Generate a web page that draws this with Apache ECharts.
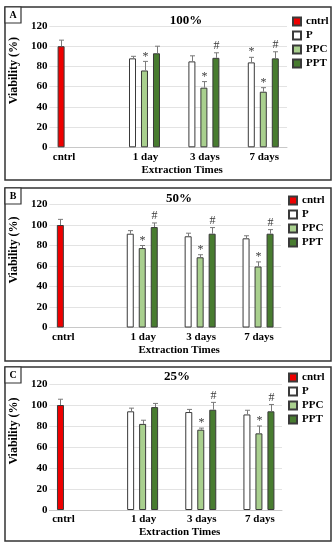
<!DOCTYPE html>
<html>
<head>
<meta charset="utf-8">
<script src="https://cdn.jsdelivr.net/npm/echarts@6/dist/echarts.min.js"></script>
<style>
  html, body { margin: 0; padding: 0; background: #fff; }
  #chart { width: 336px; height: 548px; }
</style>
</head>
<body>
<div id="chart"></div>
<script>
// Shared axis content
const categories = ['cntrl', '1 day', '3 days', '7 days'];
const seriesNames = ['cntrl', 'P', 'PPC', 'PPT'];
const yMin = 0, yMax = 120, yStep = 20;

// Panel A: 100% extract (values for 1, 3 and 7 days)
const cntrlA = 100, cntrlErrA = 6;
const pA = [88, 85, 84],     pErrA = [2, 5.5, 5];
const ppcA = [76, 59, 55],   ppcErrA = [9, 6, 4];
const pptA = [93, 88.5, 88], pptErrA = [7, 5, 6.5];
const pMarkA = ['', '', '*'], ppcMarkA = ['*', '*', '*'], pptMarkA = ['', '#', '#'];

// Panel B: 50% extract
const cntrlB = 100, cntrlErrB = 5.5;
const pB = [91.5, 89, 87],     pErrB = [3, 3, 2.5];
const ppcB = [77.5, 68.5, 59.5], ppcErrB = [2.5, 2.5, 4.5];
const pptB = [98, 91.5, 91.5],  pptErrB = [4, 6, 4];
const pMarkB = ['', '', ''], ppcMarkB = ['*', '*', '*'], pptMarkB = ['#', '#', '#'];

// Panel C: 25% extract
const cntrlC = 100, cntrlErrC = 5.5;
const pC = [94, 93.3, 91],     pErrC = [3, 2.5, 4];
const ppcC = [82, 76.5, 73],   ppcErrC = [3.5, 1.5, 7];
const pptC = [98, 95.5, 94],   pptErrC = [3.5, 7, 6.5];
const pMarkC = ['', '', ''], ppcMarkC = ['', '*', '*'], pptMarkC = ['', '#', '#'];

const FONT = 'Liberation Serif, Times New Roman, serif';
const COLORS = { cntrl: '#ee0000', P: '#ffffff', PPC: '#a9d08e', PPT: '#487c30' };
const BAR_W = 7, BAR_SPACE = 5;
const SLOT = BAR_W + BAR_SPACE;

const panels = [
  {
    letter: 'A', title: '100%',
    box: { x: 5, y: 7, w: 326, h: 173 },
    grid: { left: 48.5, top: 26, width: 238.5, height: 121.3 },
    titlePos: { x: 186, y: 14 }, legendPos: { left: 292, top: 16 },
    cntrl: cntrlA, cntrlErr: cntrlErrA,
    groups: { P: [pA, pErrA, pMarkA], PPC: [ppcA, ppcErrA, ppcMarkA], PPT: [pptA, pptErrA, pptMarkA] }
  },
  {
    letter: 'B', title: '50%',
    box: { x: 5, y: 188, w: 326, h: 173 },
    grid: { left: 46, top: 204.5, width: 235, height: 123 },
    titlePos: { x: 179, y: 192 }, legendPos: { left: 288, top: 195 },
    cntrl: cntrlB, cntrlErr: cntrlErrB,
    groups: { P: [pB, pErrB, pMarkB], PPC: [ppcB, ppcErrB, ppcMarkB], PPT: [pptB, pptErrB, pptMarkB] }
  },
  {
    letter: 'C', title: '25%',
    box: { x: 5, y: 367, w: 326, h: 174 },
    grid: { left: 46.5, top: 384, width: 235.5, height: 126 },
    titlePos: { x: 177, y: 370 }, legendPos: { left: 288, top: 372 },
    cntrl: cntrlC, cntrlErr: cntrlErrC,
    groups: { P: [pC, pErrC, pMarkC], PPC: [ppcC, ppcErrC, ppcMarkC], PPT: [pptC, pptErrC, pptMarkC] }
  }
];

const textBase = { fontFamily: FONT, fontWeight: 'bold', color: '#000' };

// Upper error whisker with cap, plus the significance mark above it
function errorRenderer(slotIndex, marks) {
  return function (params, api) {
    const cat = api.value(0), val = api.value(1), err = api.value(2);
    const base = api.coord([cat, val]);
    const top = api.coord([cat, val + err]);
    const x = Math.round(base[0] + (slotIndex - 1.5) * SLOT) + 0.5;
    const children = [
      { type: 'line', shape: { x1: x, y1: base[1], x2: x, y2: top[1] },
        style: { stroke: '#7a7a7a', lineWidth: 1 } },
      { type: 'line', shape: { x1: x - 2.5, y1: top[1], x2: x + 2.5, y2: top[1] },
        style: { stroke: '#7a7a7a', lineWidth: 1 } }
    ];
    const mark = marks ? marks[params.dataIndex] : '';
    if (mark) {
      children.push({ type: 'text', style: {
        text: mark, x: x, y: top[1] + (mark === '*' ? 1 : -1),
        align: 'center', verticalAlign: 'bottom',
        font: '12px ' + FONT, fill: '#3a3a3a' } });
    }
    return { type: 'group', children: children };
  };
}

const grids = [], xAxes = [], yAxes = [], series = [], titles = [], legends = [], graphics = [];

panels.forEach((p, i) => {
  grids.push(Object.assign({ containLabel: false }, p.grid));

  xAxes.push({
    type: 'category', gridIndex: i, data: categories,
    axisTick: { show: false },
    axisLine: { lineStyle: { color: '#c8c8c8', width: 1 } },
    axisLabel: {
      margin: 4, interval: 0,
      formatter: (v, idx) => (idx === 0 ? '{l|' + v + '}' : '{r|' + v + '}'),
      rich: {
        l: Object.assign({ fontSize: 11, padding: [0, 30, 0, 0] }, textBase),
        r: Object.assign({ fontSize: 11, padding: [0, 0, 0, 14] }, textBase)
      }
    },
    name: 'Extraction Times', nameLocation: 'middle', nameGap: 17,
    nameTextStyle: Object.assign({ fontSize: 11, padding: [0, 0, 0, 28] }, textBase)
  });

  yAxes.push({
    type: 'value', gridIndex: i, min: yMin, max: yMax, interval: yStep,
    axisLine: { show: false }, axisTick: { show: false },
    splitLine: { lineStyle: { color: '#e3e3e3', width: 1 } },
    axisLabel: Object.assign({ fontSize: 11, margin: 2 }, textBase),
    name: 'Viability (%)', nameLocation: 'middle', nameRotate: 90, nameGap: 26,
    nameTextStyle: Object.assign({ fontSize: 12, padding: [0, 0, 0, 32] }, textBase)
  });

  // bars
  const barCommon = {
    type: 'bar', xAxisIndex: i, yAxisIndex: i, barWidth: BAR_W,
    barGap: (BAR_SPACE / BAR_W * 100).toFixed(1) + '%'
  };
  series.push(Object.assign({}, barCommon, {
    name: 'cntrl', data: [p.cntrl, '-', '-', '-'],
    itemStyle: { color: COLORS.cntrl, borderColor: '#3a3a3a', borderWidth: 1 }
  }));
  ['P', 'PPC', 'PPT'].forEach(n => {
    series.push(Object.assign({}, barCommon, {
      name: n, data: ['-'].concat(p.groups[n][0]),
      itemStyle: { color: COLORS[n], borderColor: '#3a3a3a', borderWidth: 1 }
    }));
  });

  // error bars
  series.push({
    type: 'custom', name: 'cntrl error', xAxisIndex: i, yAxisIndex: i, z: 5,
    renderItem: errorRenderer(0, null),
    data: [[0, p.cntrl, p.cntrlErr]]
  });
  ['P', 'PPC', 'PPT'].forEach((n, k) => {
    const g = p.groups[n];
    series.push({
      type: 'custom', name: n + ' error', xAxisIndex: i, yAxisIndex: i, z: 5,
      renderItem: errorRenderer(k + 1, g[2]),
      data: g[0].map((v, j) => [j + 1, v, g[1][j]])
    });
  });

  titles.push({
    text: p.title, left: p.titlePos.x, top: p.titlePos.y, textAlign: 'center', padding: 0,
    textStyle: Object.assign({ fontSize: 13 }, textBase)
  });

  legends.push({
    data: seriesNames, orient: 'vertical', left: p.legendPos.left, top: p.legendPos.top,
    icon: 'rect', itemWidth: 8, itemHeight: 8, itemGap: 3, padding: 0,
    selectedMode: false,
    textStyle: Object.assign({ fontSize: 11 }, textBase)
  });

  // panel frame and corner letter
  graphics.push({
    type: 'rect', shape: { x: p.box.x, y: p.box.y, width: p.box.w, height: p.box.h },
    style: { fill: null, stroke: '#333', lineWidth: 1.5 }, silent: true
  });
  graphics.push({
    type: 'rect', shape: { x: p.box.x, y: p.box.y, width: 16, height: 16 },
    style: { fill: '#fff', stroke: '#333', lineWidth: 1.2 }, silent: true
  });
  graphics.push({
    type: 'text', x: p.box.x + 8, y: p.box.y + 8.5,
    style: { text: p.letter, font: 'bold 10px ' + FONT, fill: '#000', align: 'center', verticalAlign: 'middle' },
    silent: true
  });
});

const chart = echarts.init(document.getElementById('chart'), null, { renderer: 'canvas' });
chart.setOption({
  animation: false,
  backgroundColor: '#fff',
  title: titles,
  legend: legends,
  grid: grids,
  xAxis: xAxes,
  yAxis: yAxes,
  series: series,
  graphic: graphics
});
</script>
</body>
</html>
